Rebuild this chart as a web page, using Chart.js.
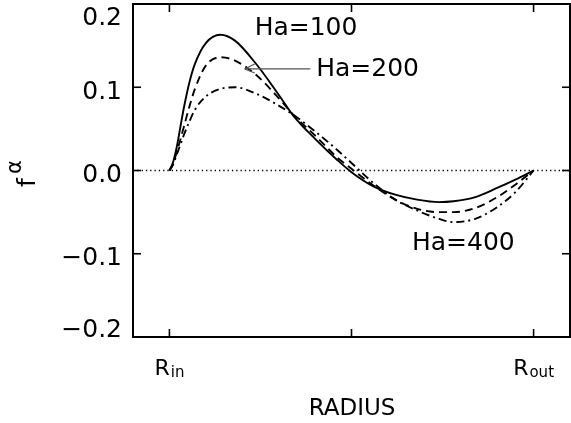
<!DOCTYPE html>
<html><head><meta charset="utf-8">
<script src="https://cdn.jsdelivr.net/npm/chart.js@4.4.0/dist/chart.umd.min.js"></script>
<style>html,body{margin:0;padding:0;background:#fff;}#wrap{width:571px;height:423px;}</style>
</head><body><div id="wrap"><canvas id="c" width="571" height="423"></canvas></div>
<script>
// ---- data ----
const radius = [0, 0.01, 0.02, 0.03, 0.04, 0.055, 0.07, 0.10, 0.14, 0.18, 0.24, 0.30, 0.34, 0.40, 0.46, 0.50, 0.56, 0.62, 0.68, 0.74, 0.78, 0.84, 0.90, 0.95, 1.0];
const ha100  = [0, 0.010, 0.028, 0.052, 0.076, 0.106, 0.128, 0.153, 0.163, 0.156, 0.127, 0.091, 0.066, 0.038, 0.013, -0.002, -0.019, -0.029, -0.035, -0.038, -0.037, -0.032, -0.021, -0.011, 0];
const ha200  = [0, 0.008, 0.022, 0.037, 0.053, 0.077, 0.098, 0.126, 0.136, 0.132, 0.114, 0.087, 0.067, 0.042, 0.016, 0.002, -0.018, -0.035, -0.046, -0.050, -0.050, -0.045, -0.032, -0.017, 0];
const ha400  = [0, 0.007, 0.019, 0.031, 0.043, 0.059, 0.073, 0.089, 0.098, 0.100, 0.092, 0.078, 0.067, 0.047, 0.025, 0.009, -0.015, -0.035, -0.048, -0.058, -0.062, -0.058, -0.044, -0.026, 0];
const yTicks = [-0.2, -0.1, 0.0, 0.1, 0.2];
const xTickValues = [0, 0.5, 1];
const xTickMain = ['R', '', 'R'];
const xTickSub = ['in', '', 'out'];
const seriesLabels = ['Ha=100', 'Ha=200', 'Ha=400'];
const labelPos = [[0.234, 0.1627], [0.403, 0.1135], [0.666, -0.095]];
const arrowFrom = [0.387, 0.122];
const arrowTo = [0.2066, 0.122];
const xTitle = 'RADIUS';
const yTitleMain = 'f';
const yTitleSup = 'α';

const pts = arr => radius.map((r, i) => ({x: r, y: arr[i]}));
const FONT = '"DejaVu Sans", sans-serif';

const decor = {
  id: 'decor',
  beforeDatasetsDraw(chart) {
    const {ctx, chartArea: a, scales: {y}} = chart;
    const p = y.getPixelForValue(0);
    ctx.save();
    ctx.strokeStyle = '#000';
    ctx.lineWidth = 1.3;
    ctx.setLineDash([1.3, 3]);
    ctx.beginPath(); ctx.moveTo(a.left, p); ctx.lineTo(a.right, p); ctx.stroke();
    ctx.restore();
  },
  afterDraw(chart) {
    const {ctx, chartArea: a, scales: {x, y}} = chart;
    ctx.save();
    ctx.strokeStyle = '#000';
    ctx.lineWidth = 2;
    ctx.strokeRect(a.left, a.top, a.right - a.left, a.bottom - a.top);
    const L = 8;
    ctx.lineWidth = 1.6;
    const seg = (x1, y1, x2, y2) => { ctx.beginPath(); ctx.moveTo(x1, y1); ctx.lineTo(x2, y2); ctx.stroke(); };
    y.ticks.forEach(t => { const p = y.getPixelForValue(t.value); seg(a.left, p, a.left + L, p); seg(a.right, p, a.right - L, p); });
    x.ticks.forEach(t => { const p = x.getPixelForValue(t.value); seg(p, a.bottom, p, a.bottom - L); seg(p, a.top, p, a.top + L); });

    ctx.fillStyle = '#000';
    // y tick labels
    ctx.font = '25px ' + FONT;
    ctx.textAlign = 'right';
    ctx.textBaseline = 'alphabetic';
    y.ticks.forEach(t => {
      const v = t.value;
      const txt = (v < -1e-9 ? '\u2212' : '') + Math.abs(v).toFixed(1);
      let c = y.getPixelForValue(v) + 2.5;
      if (c - 9 < a.top + 3) c = a.top + 12;
      if (c + 9 > a.bottom + 1) c = a.bottom - 9;
      ctx.fillText(txt, a.left - 11, c + 9);
    });
    // x tick labels with subscripts
    ctx.textAlign = 'left';
    x.ticks.forEach((t, i) => {
      const main = xTickMain[i], sub = xTickSub[i];
      if (!main) return;
      ctx.font = '22px ' + FONT; const w1 = ctx.measureText(main).width;
      ctx.font = '15px ' + FONT; const w2 = ctx.measureText(sub).width;
      const p = x.getPixelForValue(t.value);
      const s = p - (w1 + w2 + 1) / 2;
      ctx.font = '22px ' + FONT; ctx.fillText(main, s, 375);
      ctx.font = '15px ' + FONT; ctx.fillText(sub, s + w1 + 1, 377);
    });
    // x title
    ctx.font = '23px ' + FONT;
    ctx.textAlign = 'center';
    ctx.fillText(xTitle, (a.left + a.right) / 2 + 0.5, 415);
    // y title rotated
    ctx.save();
    ctx.translate(35, 187);
    ctx.rotate(-Math.PI / 2);
    ctx.textAlign = 'left';
    ctx.font = '25px ' + FONT;
    ctx.fillText(yTitleMain, 0, 0);
    ctx.font = '21px ' + FONT;
    ctx.fillText(yTitleSup, 13, -14);
    ctx.restore();
    // series labels
    ctx.font = '25px ' + FONT;
    ctx.textAlign = 'left';
    seriesLabels.forEach((s, i) => {
      ctx.fillText(s, x.getPixelForValue(labelPos[i][0]), y.getPixelForValue(labelPos[i][1]));
    });
    // arrow
    const fx = x.getPixelForValue(arrowFrom[0]), fy = y.getPixelForValue(arrowFrom[1]);
    const tx = x.getPixelForValue(arrowTo[0]), ty = y.getPixelForValue(arrowTo[1]);
    ctx.strokeStyle = '#555';
    ctx.lineWidth = 1.2;
    seg(fx, fy, tx, ty);
    seg(tx, ty, tx + 10, ty - 5);
    seg(tx, ty, tx + 10, ty + 4);
    ctx.restore();
  }
};

const common = {fill: false, pointRadius: 0, borderColor: '#000', borderWidth: 1.9, cubicInterpolationMode: 'monotone'};
new Chart(document.getElementById('c'), {
  type: 'line',
  data: {
    datasets: [
      Object.assign({label: seriesLabels[0], data: pts(ha100)}, common),
      Object.assign({label: seriesLabels[1], data: pts(ha200), borderDash: [8, 5]}, common),
      Object.assign({label: seriesLabels[2], data: pts(ha400), borderDash: [8, 4, 2, 4]}, common)
    ]
  },
  options: {
    responsive: false,
    animation: false,
    devicePixelRatio: 1,
    layout: {padding: {left: 0, top: 4, right: 1, bottom: 0}},
    plugins: {legend: {display: false}, tooltip: {enabled: false}},
    scales: {
      x: {
        type: 'linear', min: -0.1, max: 1.1,
        grid: {display: false, drawTicks: false}, border: {display: false},
        ticks: {display: false},
        afterBuildTicks: s => { s.ticks = xTickValues.map(v => ({value: v})); },
        afterFit: s => { s.height = 86; }
      },
      y: {
        type: 'linear', min: -0.2, max: 0.2,
        grid: {display: false, drawTicks: false}, border: {display: false},
        ticks: {display: false},
        afterBuildTicks: s => { s.ticks = yTicks.map(v => ({value: v})); },
        afterFit: s => { s.width = 133; }
      }
    }
  },
  plugins: [decor]
});
</script>
</body></html>
